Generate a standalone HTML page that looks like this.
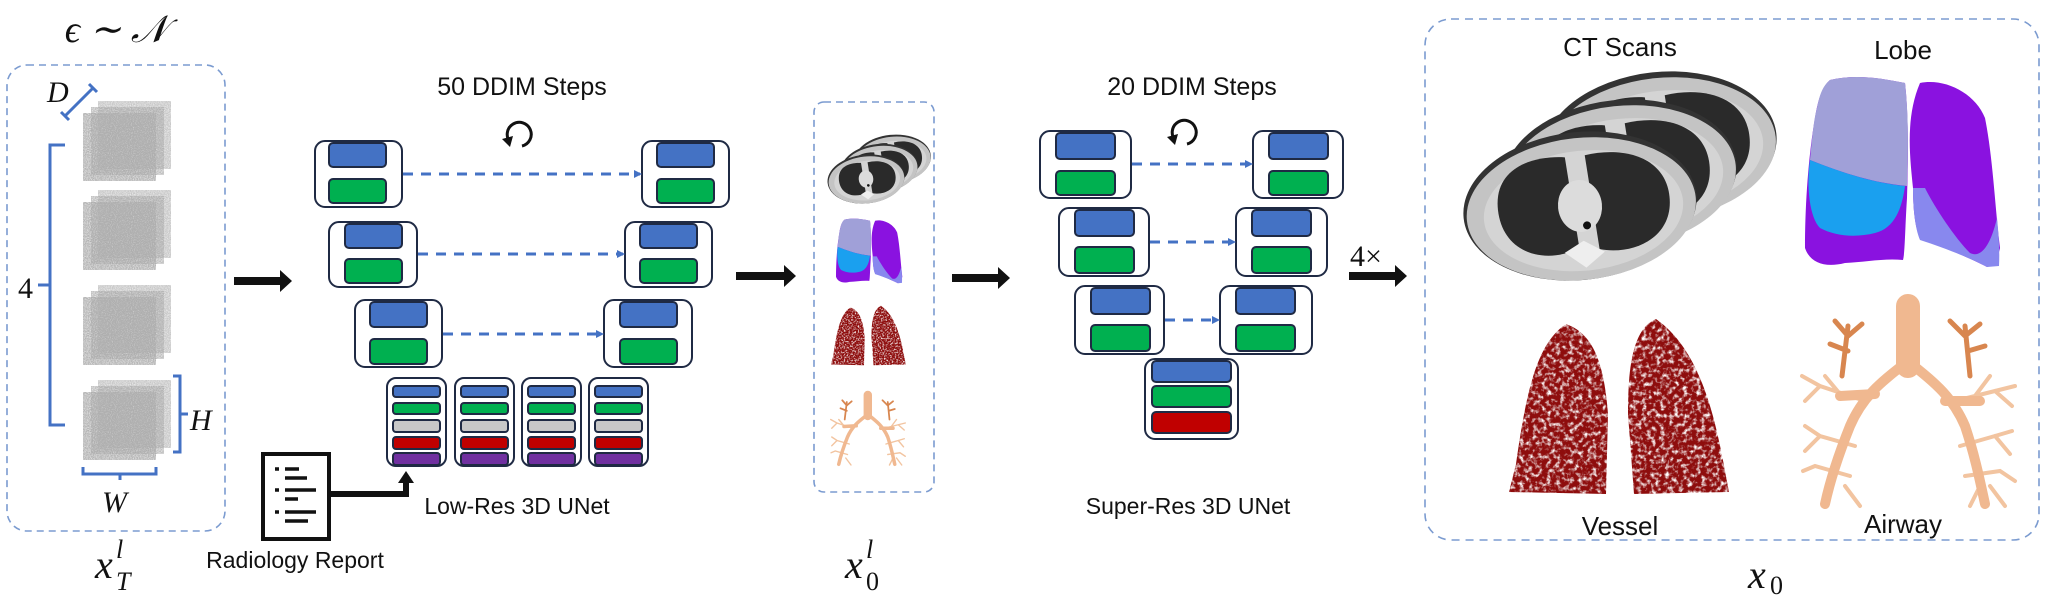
<!DOCTYPE html>
<html><head><meta charset="utf-8"><style>
html,body{margin:0;padding:0;background:#fff}
svg{display:block}
.lab{font-family:"Liberation Sans",sans-serif;fill:#111}
.m{font-family:"Liberation Serif",serif;font-style:italic;fill:#111}
</style></head><body>
<svg width="2045" height="596" viewBox="0 0 2045 596" xmlns="http://www.w3.org/2000/svg">
<defs>
<filter id="noise" x="0" y="0" width="100%" height="100%">
<feTurbulence type="fractalNoise" baseFrequency="0.95" numOctaves="2" seed="3"/>
<feColorMatrix type="matrix" values="0 0 0 0 0.42  0 0 0 0 0.42  0 0 0 0 0.42  1.4 0 0 0 0.05"/>
<feComposite in2="SourceGraphic" operator="in"/>
</filter>
<filter id="speck" x="0" y="0" width="100%" height="100%">
<feTurbulence type="fractalNoise" baseFrequency="0.22" numOctaves="3" seed="7" result="t"/>
<feColorMatrix in="t" type="matrix" values="0 0 0 0 0  0 0 0 0 0  0 0 0 0 0  0 0 0 -3 2.4" result="a"/>
<feComposite in="SourceGraphic" in2="a" operator="in"/>
</filter>
<marker id="bh" markerWidth="8" markerHeight="8" refX="6" refY="4" orient="auto" markerUnits="userSpaceOnUse" viewBox="0 0 8 8"><path d="M0,0 L8,4 L0,8Z" fill="#4472c4"/></marker>

<g id="noisestack">
<rect x="15" y="0" width="73" height="68" fill="#999" filter="url(#noise)" opacity="0.7"/>
<rect x="8" y="6" width="73" height="68" fill="#888" filter="url(#noise)" opacity="0.8"/>
<rect x="0" y="12" width="73" height="68" fill="#777" filter="url(#noise)" opacity="0.95"/>
</g>

<g id="ctslice">
<ellipse cx="0" cy="0" rx="117" ry="74" fill="#333"/>
<ellipse cx="1" cy="3" rx="115" ry="71" fill="#c4c4c4"/>
<ellipse cx="3" cy="5" rx="100" ry="60" fill="#d4d4d4"/>
<path d="M-82,-5 C-82,-48 -40,-55 -10,-50 L-5,42 C-40,55 -82,40 -82,-5Z" fill="#2a2a2a"/>
<path d="M10,-50 C50,-55 90,-40 90,0 C90,40 50,55 15,45 Z" fill="#2a2a2a"/>
<ellipse cx="0" cy="0" rx="22" ry="26" fill="#dcdcdc"/>
<circle cx="5" cy="20" r="4" fill="#111"/>
<path d="M-20,45 L0,35 L20,48 L0,62Z" fill="#eee"/>
</g>
<g id="ct">
<g transform="translate(80,-60) rotate(-6)"><use href="#ctslice"/></g>
<g transform="translate(40,-32) rotate(-6)"><use href="#ctslice"/></g>
<g transform="rotate(-6)"><use href="#ctslice"/></g>
</g>

<g id="lobe">
<path d="M25,2 C50,-4 75,0 100,5 C104,40 103,90 102,120 C100,150 100,175 98,182 C80,180 60,184 40,185 C20,190 5,185 0,170 C0,130 3,80 10,40 C13,20 18,8 25,2Z" fill="#8a12e0"/>
<path d="M25,2 C50,-4 75,0 100,5 C104,40 103,80 102,108 C70,105 40,96 5,82 C7,60 9,40 12,30 C15,15 18,8 25,2Z" fill="#a0a0d8"/>
<path d="M5,82 C40,96 70,105 100,108 C97,130 90,150 70,155 C50,160 30,158 15,150 C5,140 1,110 5,82Z" fill="#1aa0ef"/>
<path d="M115,5 C140,0 170,15 180,40 C188,80 190,130 195,170 C193,180 188,188 182,189 C165,180 140,170 115,160 C110,150 108,130 108,110 C105,80 100,40 115,5Z" fill="#8a12e0"/>
<path d="M108,110 C108,130 110,150 115,162 C140,170 165,180 182,189 L194,188 C195,170 193,150 192,140 C185,170 175,180 165,175 C150,160 130,130 120,110Z" fill="#8888ee"/>
</g>

<g id="vessel">
<path d="M60,10 C30,30 20,80 10,150 L3,178 L100,180 L102,100 C98,50 88,20 60,10Z" fill="#8e1010" filter="url(#speck)"/>
<path d="M150,5 C125,15 122,60 122,100 L128,180 L223,178 C212,120 200,40 150,5Z" fill="#8e1010" filter="url(#speck)"/>
</g>

<g id="airway" fill="none" stroke-linecap="round">
<g stroke="#d8864f" stroke-width="5">
<path d="M42,70 L48,20 M48,30 L35,15 M48,30 L62,18 M48,45 L30,38"/>
<path d="M170,70 L165,20 M165,30 L150,15 M165,30 L180,18 M168,45 L185,40"/>
</g>
<g stroke="#f2c4a0" stroke-width="4">
<path d="M65,95 L20,80 L2,70 M20,80 L5,95 M40,88 L25,70"/>
<path d="M55,140 L20,130 L5,120 M20,130 L5,145 M50,170 L15,160 L3,165 M35,170 L25,198 M45,180 L60,200"/>
<path d="M155,95 L195,85 L215,80 M195,85 L212,100 M175,90 L190,70"/>
<path d="M160,140 L195,130 L212,125 M195,130 L210,148 M165,170 L200,165 L215,175 M180,180 L170,200 M190,180 L205,200"/>
</g>
<g stroke="#f0b890" stroke-width="10">
<path d="M108,55 C90,70 65,85 50,120 C38,150 30,175 25,198"/>
<path d="M108,55 C125,70 150,85 165,120 C175,150 180,175 185,198"/>
<path d="M75,88 L40,90"/><path d="M145,95 L180,95"/>
</g>
<path d="M108,0 L108,60" stroke="#f0b890" stroke-width="24"/>
</g>
</defs>

<!-- left panel -->
<text x="116" y="42" text-anchor="middle" class="m" font-size="38">ϵ ∼ 𝒩</text>
<rect x="7" y="65" width="218" height="466" rx="20" fill="none" stroke="#7b9bd0" stroke-width="1.6" stroke-dasharray="7,5"/>
<use href="#noisestack" transform="translate(83,101)"/>
<use href="#noisestack" transform="translate(83,190)"/>
<use href="#noisestack" transform="translate(83,285)"/>
<use href="#noisestack" transform="translate(83,380)"/>
<g stroke="#4472c4" stroke-width="3" fill="none">
<path d="M65,145 L50,145 L50,425 L65,425 M50,285 L38,285"/>
<path d="M173,376 L180,376 L180,452 L173,452 M180,414 L188,414"/>
<path d="M83,467 L83,474 L156,474 L156,467 M120,474 L120,480"/>
<path d="M65,116 L93,88 M61,112 L69,120 M89,84 L97,92"/>
</g>
<text x="18" y="298" class="m" font-size="30" style="font-style:normal">4</text>
<text x="190" y="430" class="m" font-size="30">H</text>
<text x="102" y="512" class="m" font-size="30">W</text>
<text x="47" y="102" class="m" font-size="30">D</text>
<text x="95" y="578" class="m" font-size="40">x</text><text x="116" y="558" class="m" font-size="26">l</text><text x="116" y="590" class="m" font-size="26">T</text>

<!-- arrows black -->
<g fill="#111">
<path d="M234,277 L280,277 L280,270 L292,281 L280,292 L280,285 L234,285Z"/>
<path d="M736,272 L784,272 L784,265 L796,276 L784,287 L784,280 L736,280Z"/>
<path d="M952,274 L998,274 L998,267 L1010,278 L998,289 L998,282 L952,282Z"/>
<path d="M1349,272 L1395,272 L1395,265 L1407,276 L1395,287 L1395,280 L1349,280Z"/>
</g>
<text x="1350" y="266" class="m" font-size="30" style="font-style:normal">4×</text>

<!-- report -->
<rect x="263" y="454" width="66" height="85" fill="#fff" stroke="#111" stroke-width="4"/>
<g stroke="#111" stroke-width="3.5">
<path d="M275,469 L279,469 M285,469 L299,469 M285,478 L307,478 M275,490 L279,490 M285,490 L316,490 M285,499 L298,499 M275,512 L279,512 M285,512 L316,512 M285,521 L308,521"/>
</g>
<path d="M331,494 L406,494 L406,482" fill="none" stroke="#111" stroke-width="6"/>
<path d="M398,483 L406,471 L414,483Z" fill="#111"/>
<text x="295" y="568" text-anchor="middle" class="lab" font-size="23">Radiology Report</text>
<text x="517" y="514" text-anchor="middle" class="lab" font-size="23">Low-Res 3D UNet</text>
<text x="522" y="95" text-anchor="middle" class="lab" font-size="25">50 DDIM Steps</text>
<text x="1192" y="95" text-anchor="middle" class="lab" font-size="25">20 DDIM Steps</text>
<text x="1188" y="514" text-anchor="middle" class="lab" font-size="23">Super-Res 3D UNet</text>

<!-- circular arrows -->
<g fill="none" stroke="#111" stroke-width="3">
<path d="M510,142 A12,12 0 1 1 522,146"/>
<path d="M1175,140 A12,12 0 1 1 1187,144"/>
</g>
<path d="M502,139 L513,136 L510,147Z" fill="#111"/>
<path d="M1167,137 L1178,134 L1175,145Z" fill="#111"/>

<!-- UNet blocks -->
<g stroke="#1f2a44" stroke-width="2">
<rect x="315" y="141" width="87" height="66" rx="10" fill="#fff"/><rect x="329" y="143" width="57" height="24" rx="4" fill="#4472c4"/><rect x="329" y="179" width="57" height="24" rx="4" fill="#00b050"/>
<rect x="642" y="141" width="87" height="66" rx="10" fill="#fff"/><rect x="657" y="143" width="57" height="24" rx="4" fill="#4472c4"/><rect x="657" y="179" width="57" height="24" rx="4" fill="#00b050"/>
<rect x="329" y="222" width="88" height="65" rx="10" fill="#fff"/><rect x="345" y="224" width="57" height="24" rx="4" fill="#4472c4"/><rect x="345" y="259" width="57" height="24" rx="4" fill="#00b050"/>
<rect x="625" y="222" width="87" height="65" rx="10" fill="#fff"/><rect x="640" y="224" width="57" height="24" rx="4" fill="#4472c4"/><rect x="640" y="259" width="57" height="24" rx="4" fill="#00b050"/>
<rect x="355" y="300" width="87" height="67" rx="10" fill="#fff"/><rect x="370" y="302" width="57" height="25" rx="4" fill="#4472c4"/><rect x="370" y="339" width="57" height="25" rx="4" fill="#00b050"/>
<rect x="604" y="300" width="88" height="67" rx="10" fill="#fff"/><rect x="620" y="302" width="57" height="25" rx="4" fill="#4472c4"/><rect x="620" y="339" width="57" height="25" rx="4" fill="#00b050"/>
<g id="col">
<rect x="387" y="378" width="59" height="88" rx="9" fill="#fff"/>
<rect x="393" y="386" width="47" height="11" rx="3" fill="#4472c4"/>
<rect x="393" y="403" width="47" height="11" rx="3" fill="#00b050"/>
<rect x="393" y="420" width="47" height="12" rx="3" fill="#c8c8c8"/>
<rect x="393" y="437" width="47" height="12" rx="3" fill="#c00000"/>
<rect x="393" y="453" width="47" height="12" rx="3" fill="#7030a0"/>
</g>
<use href="#col" transform="translate(68,0)"/>
<use href="#col" transform="translate(135,0)"/>
<use href="#col" transform="translate(202,0)"/>
<rect x="1040" y="131" width="91" height="67" rx="10" fill="#fff"/><rect x="1056" y="133" width="59" height="26" rx="4" fill="#4472c4"/><rect x="1056" y="171" width="59" height="24" rx="4" fill="#00b050"/>
<rect x="1253" y="131" width="90" height="67" rx="10" fill="#fff"/><rect x="1269" y="133" width="59" height="26" rx="4" fill="#4472c4"/><rect x="1269" y="171" width="59" height="24" rx="4" fill="#00b050"/>
<rect x="1059" y="208" width="90" height="68" rx="10" fill="#fff"/><rect x="1075" y="210" width="59" height="26" rx="4" fill="#4472c4"/><rect x="1075" y="247" width="59" height="26" rx="4" fill="#00b050"/>
<rect x="1236" y="208" width="91" height="68" rx="10" fill="#fff"/><rect x="1252" y="210" width="59" height="26" rx="4" fill="#4472c4"/><rect x="1252" y="247" width="59" height="26" rx="4" fill="#00b050"/>
<rect x="1075" y="286" width="89" height="68" rx="10" fill="#fff"/><rect x="1091" y="288" width="59" height="26" rx="4" fill="#4472c4"/><rect x="1091" y="325" width="59" height="26" rx="4" fill="#00b050"/>
<rect x="1220" y="286" width="92" height="68" rx="10" fill="#fff"/><rect x="1236" y="288" width="59" height="26" rx="4" fill="#4472c4"/><rect x="1236" y="325" width="59" height="26" rx="4" fill="#00b050"/>
<rect x="1145" y="359" width="93" height="80" rx="10" fill="#fff"/><rect x="1152" y="361" width="79" height="21" rx="4" fill="#4472c4"/><rect x="1152" y="386" width="79" height="21" rx="4" fill="#00b050"/><rect x="1152" y="412" width="79" height="21" rx="4" fill="#c00000"/>
</g>

<g stroke="#4472c4" stroke-width="3" stroke-dasharray="10,8" fill="none" marker-end="url(#bh)">
<path d="M403,174 L640,174"/>
<path d="M418,254 L623,254"/>
<path d="M443,334 L602,334"/>
<path d="M1132,164 L1251,164"/>
<path d="M1150,242 L1234,242"/>
<path d="M1165,320 L1218,320"/>
</g>

<!-- x0^l panel -->
<rect x="814" y="102" width="120" height="390" rx="10" fill="none" stroke="#7b9bd0" stroke-width="1.6" stroke-dasharray="7,5"/>
<use href="#ct" transform="translate(866,179) scale(0.33)"/>
<use href="#lobe" transform="translate(836,219) scale(0.34)"/>
<use href="#vessel" transform="translate(830,304) scale(0.34)"/>
<use href="#airway" transform="translate(830,395) scale(0.35)"/>
<text x="845" y="578" class="m" font-size="40">x</text><text x="866" y="558" class="m" font-size="26">l</text><text x="866" y="590" class="m" font-size="26" style="font-style:normal">0</text>

<!-- right panel -->
<rect x="1425" y="19" width="614" height="521" rx="26" fill="none" stroke="#7b9bd0" stroke-width="1.6" stroke-dasharray="8,6"/>
<text x="1620" y="56" text-anchor="middle" class="lab" font-size="26">CT Scans</text>
<text x="1903" y="59" text-anchor="middle" class="lab" font-size="26">Lobe</text>
<use href="#ct" transform="translate(1580,206)"/>
<use href="#lobe" transform="translate(1805,78)"/>
<use href="#vessel" transform="translate(1506,314)"/>
<use href="#airway" transform="translate(1800,306)"/>
<text x="1620" y="535" text-anchor="middle" class="lab" font-size="26">Vessel</text>
<text x="1903" y="533" text-anchor="middle" class="lab" font-size="26">Airway</text>
<text x="1748" y="588" class="m" font-size="40">x</text><text x="1770" y="594" class="m" font-size="26" style="font-style:normal">0</text>
</svg>
</body></html>
